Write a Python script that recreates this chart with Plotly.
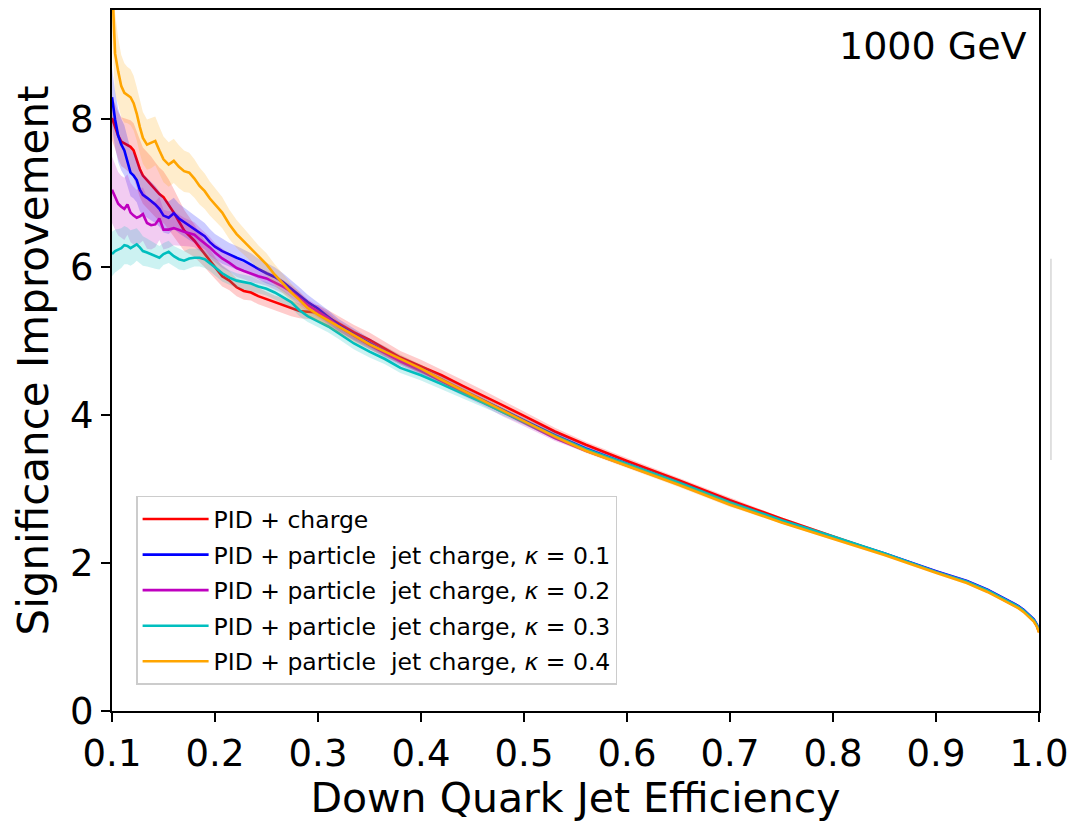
import plotly.graph_objects as go

# ---- data ----
eff = [0.100, 0.103, 0.106, 0.109, 0.112, 0.115, 0.118, 0.121, 0.124, 0.127,
       0.130, 0.134, 0.138, 0.142, 0.146, 0.150, 0.155, 0.160, 0.165, 0.170,
       0.175, 0.180, 0.185, 0.190, 0.195, 0.200, 0.207, 0.214, 0.221, 0.228,
       0.235, 0.242, 0.250, 0.258, 0.266, 0.274, 0.282, 0.290,
       0.300, 0.310, 0.320, 0.335, 0.350, 0.365, 0.380, 0.400, 0.420, 0.440,
       0.460, 0.480, 0.500, 0.530, 0.560, 0.600, 0.650, 0.700, 0.750, 0.800,
       0.850, 0.900, 0.930, 0.950, 0.960, 0.970, 0.980, 0.985, 0.990, 0.995,
       0.998, 1.000]

sig_charge = [8.02, 7.90, 7.78, 7.70, 7.68, 7.66, 7.63, 7.58, 7.45, 7.33,
              7.24, 7.18, 7.12, 7.05, 6.99, 6.95, 6.85, 6.74, 6.62, 6.50,
              6.43, 6.36, 6.27, 6.18, 6.08, 5.99, 5.88, 5.82, 5.73, 5.68,
              5.66, 5.61, 5.57, 5.52, 5.48, 5.44, 5.41, 5.40,
              5.39, 5.32, 5.24, 5.12, 5.02, 4.90, 4.78, 4.66, 4.54, 4.40,
              4.27, 4.13, 3.99, 3.78, 3.60, 3.38, 3.12, 2.85, 2.60, 2.36,
              2.13, 1.88, 1.74, 1.62, 1.55, 1.48, 1.40, 1.35, 1.29, 1.22,
              1.15, 1.07]
err_charge = [0.30, 0.30, 0.32, 0.33, 0.34, 0.35, 0.36, 0.37, 0.38, 0.38,
              0.38, 0.38, 0.38, 0.37, 0.36, 0.35, 0.34, 0.32, 0.30, 0.28,
              0.25, 0.22, 0.20, 0.18, 0.16, 0.15, 0.14, 0.13, 0.12, 0.12,
              0.11, 0.11, 0.10, 0.10, 0.10, 0.10, 0.10, 0.10,
              0.10, 0.10, 0.10, 0.10, 0.10, 0.10, 0.09, 0.09, 0.08, 0.08,
              0.07, 0.07, 0.06, 0.05, 0.04, 0.04, 0.03, 0.03, 0.02, 0.02,
              0.02, 0.02, 0.02, 0.02, 0.02, 0.02, 0.02, 0.02, 0.02, 0.02,
              0.02, 0.02]

sig_k01 = [8.30, 8.00, 7.78, 7.66, 7.58, 7.42, 7.28, 7.24, 7.18, 7.05,
           6.98, 6.94, 6.90, 6.85, 6.79, 6.70, 6.67, 6.73, 6.66, 6.61,
           6.56, 6.52, 6.47, 6.42, 6.34, 6.28, 6.22, 6.17, 6.13, 6.09,
           6.04, 5.98, 5.92, 5.87, 5.80, 5.71, 5.62, 5.53,
           5.44, 5.33, 5.22, 5.09, 4.97, 4.86, 4.75, 4.62, 4.48, 4.34,
           4.20, 4.06, 3.93, 3.73, 3.55, 3.34, 3.08, 2.81, 2.57, 2.35,
           2.13, 1.89, 1.76, 1.64, 1.57, 1.50, 1.42, 1.37, 1.31, 1.24,
           1.17, 1.09]
err_k01 = [0.40, 0.38, 0.36, 0.35, 0.34, 0.33, 0.32, 0.31, 0.30, 0.29,
           0.28, 0.27, 0.26, 0.25, 0.24, 0.23, 0.22, 0.21, 0.20, 0.20,
           0.19, 0.19, 0.18, 0.18, 0.18, 0.17, 0.17, 0.16, 0.16, 0.15,
           0.15, 0.14, 0.14, 0.13, 0.12, 0.12, 0.11, 0.10,
           0.09, 0.09, 0.08, 0.08, 0.07, 0.07, 0.06, 0.06, 0.05, 0.05,
           0.05, 0.04, 0.04, 0.04, 0.03, 0.03, 0.03, 0.03, 0.02, 0.02,
           0.02, 0.02, 0.02, 0.02, 0.02, 0.02, 0.02, 0.02, 0.02, 0.02,
           0.02, 0.02]

sig_k02 = [7.05, 6.95, 6.86, 6.82, 6.79, 6.85, 6.74, 6.70, 6.67, 6.69,
           6.72, 6.60, 6.57, 6.58, 6.66, 6.51, 6.51, 6.53, 6.50, 6.48,
           6.46, 6.44, 6.38, 6.33, 6.27, 6.20, 6.12, 6.06, 5.99, 5.95,
           5.91, 5.88, 5.85, 5.80, 5.74, 5.67, 5.58, 5.49,
           5.40, 5.31, 5.20, 5.07, 4.95, 4.84, 4.73, 4.60, 4.46, 4.32,
           4.18, 4.03, 3.89, 3.69, 3.52, 3.32, 3.07, 2.80, 2.56, 2.34,
           2.12, 1.88, 1.75, 1.63, 1.56, 1.49, 1.41, 1.36, 1.30, 1.23,
           1.16, 1.08]
err_k02 = [0.45, 0.44, 0.43, 0.42, 0.42, 0.41, 0.40, 0.39, 0.38, 0.37,
           0.36, 0.35, 0.33, 0.31, 0.29, 0.27, 0.25, 0.23, 0.21, 0.19,
           0.18, 0.17, 0.16, 0.15, 0.14, 0.13, 0.13, 0.12, 0.12, 0.11,
           0.11, 0.10, 0.10, 0.10, 0.09, 0.09, 0.09, 0.08,
           0.08, 0.08, 0.07, 0.07, 0.07, 0.06, 0.06, 0.06, 0.05, 0.05,
           0.05, 0.05, 0.04, 0.04, 0.03, 0.03, 0.03, 0.03, 0.02, 0.02,
           0.02, 0.02, 0.02, 0.02, 0.02, 0.02, 0.02, 0.02, 0.02, 0.02,
           0.02, 0.02]

sig_k03 = [6.18, 6.22, 6.24, 6.26, 6.30, 6.29, 6.26, 6.28, 6.31, 6.27,
           6.22, 6.20, 6.18, 6.15, 6.13, 6.18, 6.21, 6.15, 6.11, 6.09,
           6.12, 6.13, 6.13, 6.11, 6.06, 6.00, 5.92, 5.86, 5.82, 5.80,
           5.78, 5.74, 5.71, 5.66, 5.60, 5.53, 5.42, 5.34,
           5.27, 5.20, 5.11, 4.97, 4.86, 4.76, 4.64, 4.54, 4.42, 4.30,
           4.17, 4.04, 3.91, 3.72, 3.54, 3.34, 3.09, 2.82, 2.58, 2.36,
           2.13, 1.88, 1.75, 1.63, 1.56, 1.49, 1.41, 1.36, 1.30, 1.23,
           1.16, 1.08]
err_k03 = [0.30, 0.29, 0.28, 0.27, 0.26, 0.25, 0.24, 0.23, 0.22, 0.21,
           0.20, 0.19, 0.18, 0.17, 0.16, 0.15, 0.15, 0.14, 0.14, 0.13,
           0.13, 0.12, 0.12, 0.12, 0.11, 0.11, 0.11, 0.10, 0.10, 0.10,
           0.10, 0.09, 0.09, 0.09, 0.09, 0.08, 0.08, 0.08,
           0.08, 0.08, 0.08, 0.08, 0.08, 0.07, 0.07, 0.07, 0.06, 0.06,
           0.05, 0.05, 0.04, 0.04, 0.03, 0.03, 0.03, 0.02, 0.02, 0.02,
           0.02, 0.02, 0.02, 0.02, 0.02, 0.02, 0.02, 0.02, 0.02, 0.02,
           0.02, 0.02]

sig_k04 = [9.90, 8.89, 8.65, 8.45, 8.36, 8.33, 8.30, 8.22, 8.08, 7.90,
           7.75, 7.66, 7.68, 7.71, 7.58, 7.46, 7.39, 7.44, 7.36, 7.30,
           7.28, 7.20, 7.10, 7.03, 6.93, 6.85, 6.74, 6.58, 6.45, 6.35,
           6.25, 6.14, 6.04, 5.90, 5.78, 5.66, 5.56, 5.45,
           5.36, 5.28, 5.19, 5.07, 4.96, 4.86, 4.76, 4.63, 4.48, 4.34,
           4.20, 4.06, 3.92, 3.71, 3.52, 3.32, 3.06, 2.79, 2.55, 2.33,
           2.11, 1.87, 1.73, 1.61, 1.54, 1.47, 1.39, 1.34, 1.28, 1.21,
           1.14, 1.06]
err_k04 = [0.70, 0.55, 0.45, 0.42, 0.40, 0.38, 0.38, 0.37, 0.36, 0.36,
           0.35, 0.34, 0.34, 0.33, 0.32, 0.31, 0.30, 0.30, 0.29, 0.28,
           0.27, 0.26, 0.25, 0.24, 0.23, 0.22, 0.21, 0.20, 0.19, 0.18,
           0.17, 0.16, 0.15, 0.14, 0.13, 0.12, 0.11, 0.10,
           0.09, 0.09, 0.08, 0.08, 0.07, 0.07, 0.06, 0.06, 0.05, 0.05,
           0.05, 0.04, 0.04, 0.04, 0.03, 0.03, 0.03, 0.03, 0.02, 0.02,
           0.02, 0.02, 0.02, 0.02, 0.02, 0.02, 0.02, 0.02, 0.02, 0.02,
           0.02, 0.02]

series_names = ["PID + charge",
                "PID + particle\u00a0 jet charge, <i>κ</i> = 0.1",
                "PID + particle\u00a0 jet charge, <i>κ</i> = 0.2",
                "PID + particle\u00a0 jet charge, <i>κ</i> = 0.3",
                "PID + particle\u00a0 jet charge, <i>κ</i> = 0.4"]
x_ticks = [0.1, 0.2, 0.3, 0.4, 0.5, 0.6, 0.7, 0.8, 0.9, 1.0]
y_ticks = [0, 2, 4, 6, 8]

# ---- styling ----
line_colors = ["rgb(255,0,0)", "rgb(0,0,255)", "rgb(191,0,191)",
               "rgb(0,191,191)", "rgb(255,165,0)"]
band_colors = ["rgba(255,0,0,0.2)", "rgba(0,0,255,0.2)", "rgba(191,0,191,0.2)",
               "rgba(0,191,191,0.2)", "rgba(255,165,0,0.2)"]
sigs = [sig_charge, sig_k01, sig_k02, sig_k03, sig_k04]
errs = [err_charge, err_k01, err_k02, err_k03, err_k04]

FONT = "DejaVu Sans"
fig = go.Figure()
for i in range(5):
    y, e = sigs[i], errs[i]
    assert len(y) == len(eff) and len(e) == len(eff)
    fig.add_trace(go.Scatter(
        x=eff, y=y, mode="lines", name=series_names[i],
        line=dict(color=line_colors[i], width=2.6),
        legendgroup="g%d" % i, hoverinfo="skip"))
    upper = [a + b for a, b in zip(y, e)]
    lower = [a - b for a, b in zip(y, e)]
    fig.add_trace(go.Scatter(
        x=eff + eff[::-1], y=upper + lower[::-1], mode="lines",
        fill="toself", fillcolor=band_colors[i], line=dict(width=0),
        showlegend=False, hoverinfo="skip", legendgroup="g%d" % i))

fig.update_layout(
    width=1076, height=822,
    margin=dict(l=112, r=35, t=8, b=110),
    paper_bgcolor="white", plot_bgcolor="white",
    font=dict(family=FONT, color="black"),
    showlegend=True,
    legend=dict(x=0.026, y=0.307, xanchor="left", yanchor="top",
                bgcolor="rgba(255,255,255,0.8)", bordercolor="#cccccc",
                borderwidth=1.5, font=dict(family=FONT, size=23.5),
                tracegroupgap=2, itemwidth=66),
    annotations=[dict(text="1000 GeV", x=0.989, y=0.949, xref="paper",
                      yref="paper", xanchor="right", yanchor="middle",
                      showarrow=False, font=dict(family=FONT, size=38))],
    shapes=[dict(type="line", xref="paper", yref="paper",
                 x0=1.0129, x1=1.0129, y0=0.358, y1=0.645,
                 line=dict(color="#d6d6d6", width=1.5))],
)
fig.update_xaxes(range=[0.1, 1.0], tickvals=x_ticks, tickformat=".1f",
                 showline=True, mirror=True, linecolor="black", linewidth=2,
                 ticks="outside", ticklen=9, tickwidth=2, tickcolor="black",
                 showgrid=False, zeroline=False,
                 tickfont=dict(family=FONT, size=37),
                 title=dict(text="Down Quark Jet Efficiency",
                            font=dict(family=FONT, size=41), standoff=10))
fig.update_yaxes(range=[0, 9.48], tickvals=y_ticks,
                 showline=True, mirror=True, linecolor="black", linewidth=2,
                 ticks="outside", ticklen=9, tickwidth=2, tickcolor="black",
                 showgrid=False, zeroline=False,
                 tickfont=dict(family=FONT, size=37),
                 title=dict(text="Significance Improvement",
                            font=dict(family=FONT, size=42), standoff=8))

fig.write_html("out.html")
